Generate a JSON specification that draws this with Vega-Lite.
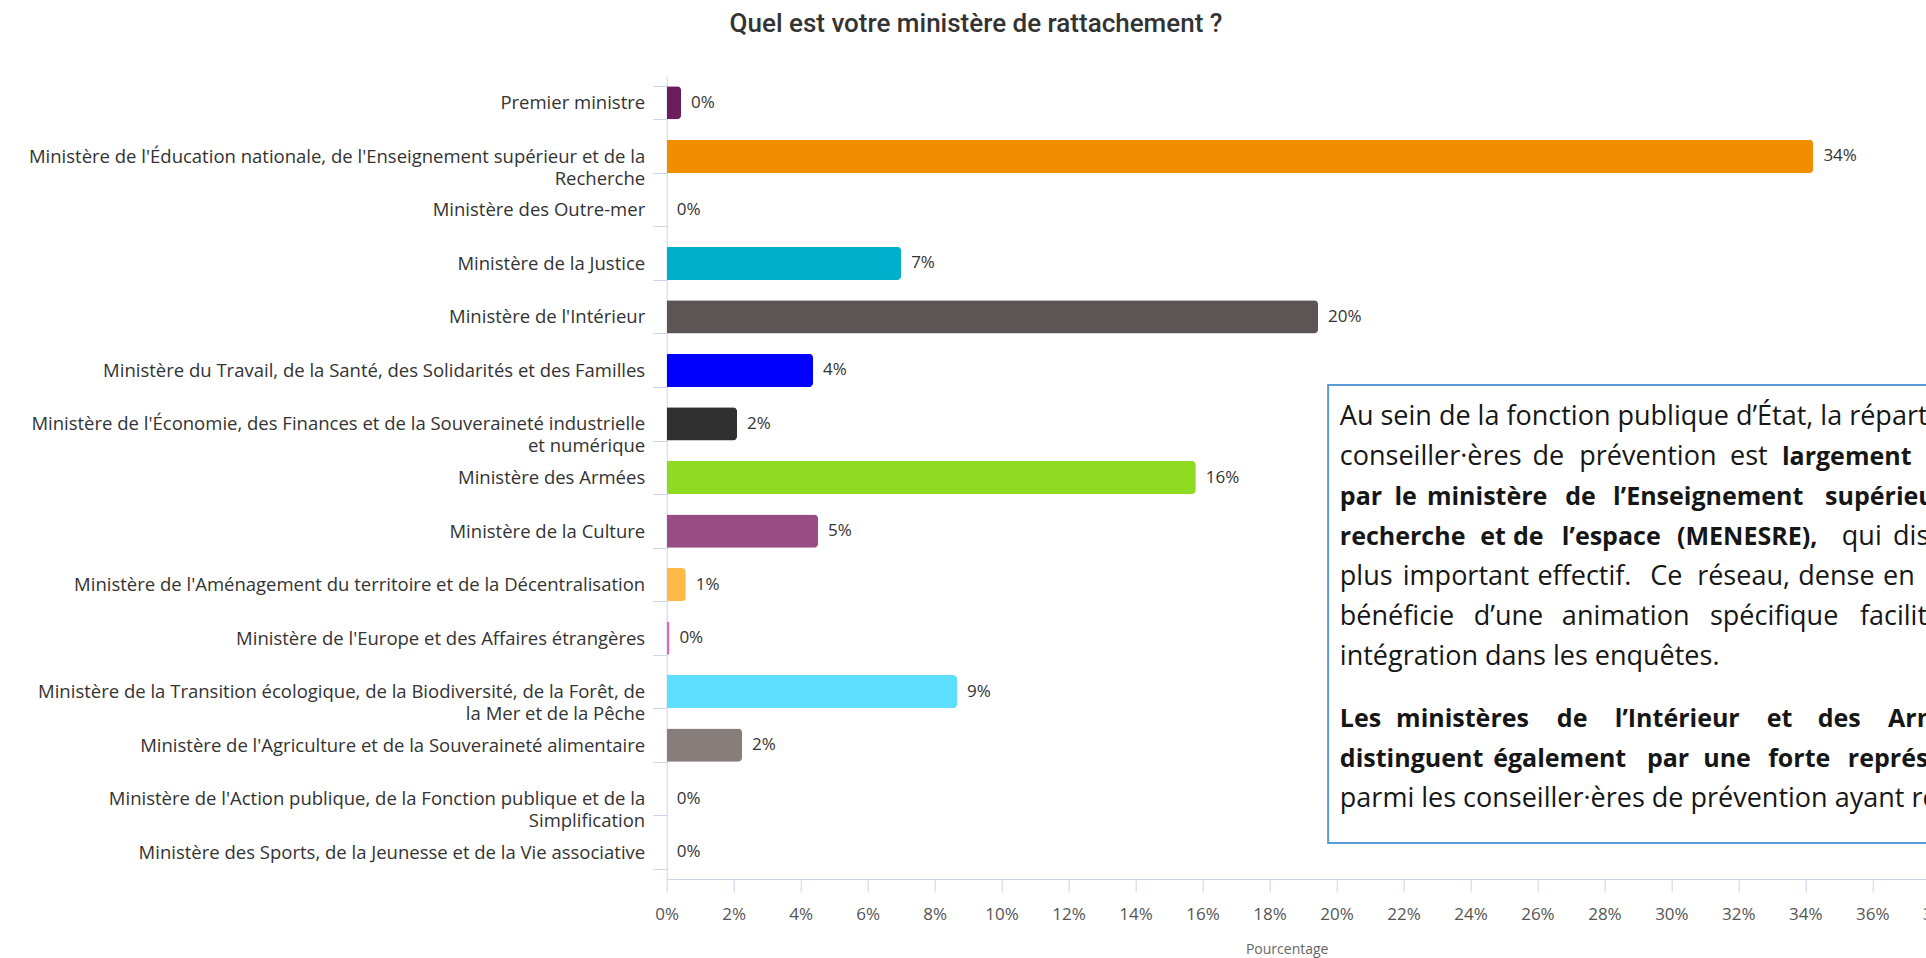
{
  "$schema": "https://vega.github.io/schema/vega-lite/v6.json",
  "autosize": {"type": "none"},
  "width": 1272.6,
  "height": 803,
  "padding": {"left": 666.7, "top": 76, "right": -13.3, "bottom": 79},
  "background": "white",
  "title": {
    "text": "Quel est votre ministère de rattachement ?",
    "anchor": "middle", "frame": "group", "dx": -327,
    "font": "Roboto", "fontSize": 26, "fontWeight": 500, "color": "#333333", "offset": 30
  },
  "config": {"view": {"stroke": null}, "font": "Open Sans"},
  "datasets": {
    "bars": [
      {"name": "Premier ministre", "pct": 0.43, "lbl": "0%"},
      {"name": "Ministère de l'Éducation nationale, de l'Enseignement supérieur et de la\nRecherche", "pct": 34.24, "lbl": "34%"},
      {"name": "Ministère des Outre-mer", "pct": 0, "lbl": "0%"},
      {"name": "Ministère de la Justice", "pct": 7.0, "lbl": "7%"},
      {"name": "Ministère de l'Intérieur", "pct": 19.45, "lbl": "20%"},
      {"name": "Ministère du Travail, de la Santé, des Solidarités et des Familles", "pct": 4.37, "lbl": "4%"},
      {"name": "Ministère de l'Économie, des Finances et de la Souveraineté industrielle\net numérique", "pct": 2.1, "lbl": "2%"},
      {"name": "Ministère des Armées", "pct": 15.8, "lbl": "16%"},
      {"name": "Ministère de la Culture", "pct": 4.52, "lbl": "5%"},
      {"name": "Ministère de l'Aménagement du territoire et de la Décentralisation", "pct": 0.57, "lbl": "1%"},
      {"name": "Ministère de l'Europe et des Affaires étrangères", "pct": 0.08, "lbl": "0%"},
      {"name": "Ministère de la Transition écologique, de la Biodiversité, de la Forêt, de\nla Mer et de la Pêche", "pct": 8.67, "lbl": "9%"},
      {"name": "Ministère de l'Agriculture et de la Souveraineté alimentaire", "pct": 2.25, "lbl": "2%"},
      {"name": "Ministère de l'Action publique, de la Fonction publique et de la\nSimplification", "pct": 0, "lbl": "0%"},
      {"name": "Ministère des Sports, de la Jeunesse et de la Vie associative", "pct": 0, "lbl": "0%"}
    ],
    "box": [
      {"x1": 19.75, "x2": 41, "y1": 0.2, "y2": 11.65}
    ],
    "notes": [
      {"ln": 1, "x": 20.1, "w": "n", "t": "Au sein de la fonction publique d’État, la répartition"},
      {"ln": 2, "x": 20.1, "w": "n", "t": "conseiller·ères"},
      {"ln": 2, "x": 25.85, "w": "n", "t": "de"},
      {"ln": 2, "x": 27.25, "w": "n", "t": "prévention"},
      {"ln": 2, "x": 31.75, "w": "n", "t": "est"},
      {"ln": 2, "x": 33.3, "w": "b", "t": "largement"},
      {"ln": 3, "x": 20.1, "w": "b", "t": "par"},
      {"ln": 3, "x": 21.73, "w": "b", "t": "le"},
      {"ln": 3, "x": 22.7, "w": "b", "t": "ministère"},
      {"ln": 3, "x": 26.83, "w": "b", "t": "de"},
      {"ln": 3, "x": 28.26, "w": "b", "t": "l’Enseignement"},
      {"ln": 3, "x": 34.59, "w": "b", "t": "supérieur,"},
      {"ln": 4, "x": 20.1, "w": "b", "t": "recherche"},
      {"ln": 4, "x": 24.29, "w": "b", "t": "et"},
      {"ln": 4, "x": 25.27, "w": "b", "t": "de"},
      {"ln": 4, "x": 26.73, "w": "b", "t": "l’espace"},
      {"ln": 4, "x": 30.17, "w": "b", "t": "(MENESRE),"},
      {"ln": 4, "x": 35.09, "w": "n", "t": "qui"},
      {"ln": 4, "x": 36.62, "w": "n", "t": "dispose"},
      {"ln": 5, "x": 20.1, "w": "n", "t": "plus"},
      {"ln": 5, "x": 21.98, "w": "n", "t": "important"},
      {"ln": 5, "x": 26.0, "w": "n", "t": "effectif."},
      {"ln": 5, "x": 29.37, "w": "n", "t": "Ce"},
      {"ln": 5, "x": 30.77, "w": "n", "t": "réseau,"},
      {"ln": 5, "x": 33.79, "w": "n", "t": "dense"},
      {"ln": 5, "x": 36.32, "w": "n", "t": "en"},
      {"ln": 6, "x": 20.1, "w": "n", "t": "bénéficie"},
      {"ln": 6, "x": 24.1, "w": "n", "t": "d’une"},
      {"ln": 6, "x": 26.73, "w": "n", "t": "animation"},
      {"ln": 6, "x": 31.15, "w": "n", "t": "spécifique"},
      {"ln": 6, "x": 35.63, "w": "n", "t": "facilitant"},
      {"ln": 7, "x": 20.1, "w": "n", "t": "intégration dans les enquêtes."},
      {"ln": 8.55, "x": 20.1, "w": "b", "t": "Les"},
      {"ln": 8.55, "x": 21.78, "w": "b", "t": "ministères"},
      {"ln": 8.55, "x": 26.58, "w": "b", "t": "de"},
      {"ln": 8.55, "x": 28.31, "w": "b", "t": "l’Intérieur"},
      {"ln": 8.55, "x": 32.85, "w": "b", "t": "et"},
      {"ln": 8.55, "x": 34.37, "w": "b", "t": "des"},
      {"ln": 8.55, "x": 36.47, "w": "b", "t": "Armées"},
      {"ln": 9.55, "x": 20.1, "w": "b", "t": "distinguent"},
      {"ln": 9.55, "x": 24.68, "w": "b", "t": "également"},
      {"ln": 9.55, "x": 29.27, "w": "b", "t": "par"},
      {"ln": 9.55, "x": 30.95, "w": "b", "t": "une"},
      {"ln": 9.55, "x": 32.89, "w": "b", "t": "forte"},
      {"ln": 9.55, "x": 35.27, "w": "b", "t": "représentation"},
      {"ln": 10.55, "x": 20.1, "w": "n", "t": "parmi les conseiller·ères de prévention ayant répondu."}
    ]
  },
  "layer": [
    {
      "data": {"name": "bars"},
      "mark": {"type": "bar", "cornerRadiusEnd": 4},
      "encoding": {
        "y": {
          "field": "name", "type": "nominal", "sort": null,
          "scale": {"paddingInner": 0.38, "paddingOuter": 0.19},
          "axis": {
            "title": null, "domainColor": "#ccd6eb", "tickColor": "#ccd6eb",
            "tickSize": 14, "tickBand": "extent", "labelPadding": 8,
            "labelFont": "Open Sans", "labelFontSize": 18.5, "labelColor": "#333333",
            "labelLimit": 700, "labelLineHeight": 22,
            "labelExpr": "split(datum.label, '\\n')"
          }
        },
        "x": {
          "field": "pct", "type": "quantitative",
          "scale": {"domain": [0, 38], "nice": false},
          "axis": {
            "title": "Pourcentage",
            "values": [0, 2, 4, 6, 8, 10, 12, 14, 16, 18, 20, 22, 24, 26, 28, 30, 32, 34, 36, 38],
            "labelExpr": "datum.value + '%'",
            "grid": false, "domainColor": "#ccd6eb", "tickColor": "#ccd6eb",
            "tickSize": 13, "labelPadding": 14, "labelFont": "Open Sans", "labelFontSize": 17,
            "labelColor": "#555555", "labelFlush": false, "labelOverlap": false,
            "titleFont": "Open Sans", "titleFontSize": 14, "titleFontWeight": "normal",
            "titleColor": "#666666", "titlePadding": 20, "titleX": 620
          }
        },
        "color": {
          "field": "name", "type": "nominal", "legend": null,
          "scale": {
            "domain": [
              "Premier ministre",
              "Ministère de l'Éducation nationale, de l'Enseignement supérieur et de la\nRecherche",
              "Ministère des Outre-mer",
              "Ministère de la Justice",
              "Ministère de l'Intérieur",
              "Ministère du Travail, de la Santé, des Solidarités et des Familles",
              "Ministère de l'Économie, des Finances et de la Souveraineté industrielle\net numérique",
              "Ministère des Armées",
              "Ministère de la Culture",
              "Ministère de l'Aménagement du territoire et de la Décentralisation",
              "Ministère de l'Europe et des Affaires étrangères",
              "Ministère de la Transition écologique, de la Biodiversité, de la Forêt, de\nla Mer et de la Pêche",
              "Ministère de l'Agriculture et de la Souveraineté alimentaire",
              "Ministère de l'Action publique, de la Fonction publique et de la\nSimplification",
              "Ministère des Sports, de la Jeunesse et de la Vie associative"
            ],
            "range": ["#6b1d5c", "#f18e00", "#e4794a", "#00afcb", "#5d5555", "#0000fe", "#303030", "#8fdb24", "#974c83", "#ffb946", "#f45cb9", "#5edfff", "#877d7b", "#a558a0", "#ce614a"]
          }
        }
      }
    },
    {
      "data": {"name": "bars"},
      "mark": {"type": "text", "align": "left", "baseline": "middle", "dx": 10, "font": "Open Sans", "fontSize": 17, "color": "#333333"},
      "encoding": {
        "y": {"field": "name", "type": "nominal", "sort": null, "scale": {"paddingInner": 0.38, "paddingOuter": 0.19}, "axis": null},
        "x": {"field": "pct", "type": "quantitative", "scale": {"domain": [0, 38], "nice": false}},
        "text": {"field": "lbl"}
      }
    },
    {
      "data": {"name": "box"},
      "mark": {"type": "rect", "fill": "white", "stroke": "#5b9bd5", "strokeWidth": 2},
      "encoding": {
        "x": {"field": "x1", "type": "quantitative", "scale": {"domain": [0, 38], "nice": false}},
        "x2": {"field": "x2"},
        "y": {"field": "y1", "type": "quantitative", "scale": {"domain": [-7.525, 12.55], "nice": false, "zero": false, "reverse": true}, "axis": null},
        "y2": {"field": "y2"}
      }
    },
    {
      "data": {"name": "notes"},
      "transform": [{"filter": "datum.w == 'n'"}],
      "mark": {"type": "text", "align": "left", "baseline": "middle", "font": "Open Sans", "fontSize": 27, "color": "#161616"},
      "encoding": {
        "x": {"field": "x", "type": "quantitative", "scale": {"domain": [0, 38], "nice": false}},
        "y": {"field": "ln", "type": "quantitative", "scale": {"domain": [-7.525, 12.55], "nice": false, "zero": false, "reverse": true}, "axis": null},
        "text": {"field": "t"}
      }
    },
    {
      "data": {"name": "notes"},
      "transform": [{"filter": "datum.w == 'b'"}],
      "mark": {"type": "text", "align": "left", "baseline": "middle", "font": "Open Sans", "fontSize": 25, "fontWeight": "bold", "color": "#161616"},
      "encoding": {
        "x": {"field": "x", "type": "quantitative", "scale": {"domain": [0, 38], "nice": false}},
        "y": {"field": "ln", "type": "quantitative", "scale": {"domain": [-7.525, 12.55], "nice": false, "zero": false, "reverse": true}, "axis": null},
        "text": {"field": "t"}
      }
    }
  ],
  "resolve": {"scale": {"y": "independent"}}
}
